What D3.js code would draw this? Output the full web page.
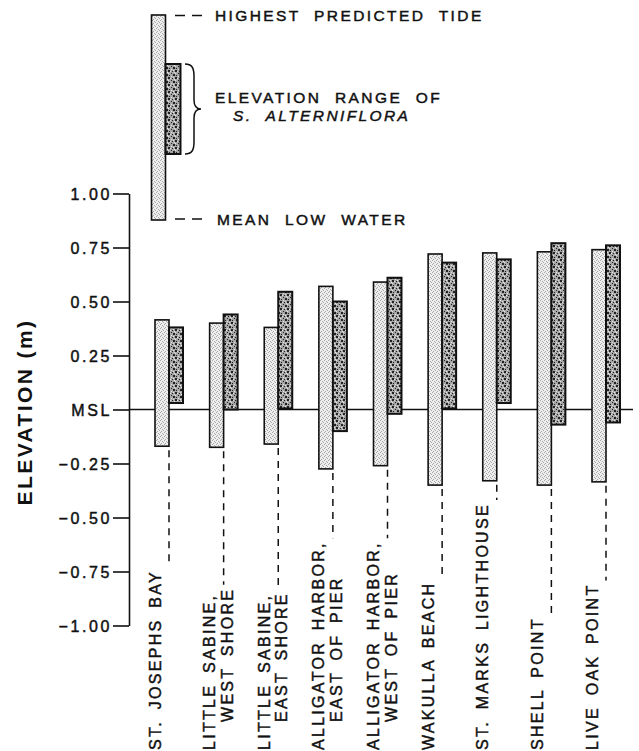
<!DOCTYPE html>
<html>
<head>
<meta charset="utf-8">
<script src="https://cdnjs.cloudflare.com/ajax/libs/d3/7.8.5/d3.min.js"></script>
<style>
  html, body { margin: 0; padding: 0; background: #fff; }
  svg { display: block; }
  text { font-family: "Liberation Sans", Arial, sans-serif; fill: #111; stroke: #111; stroke-width: 0.45px; }
</style>
</head>
<body>
<div id="chart"></div>
<script>
// sites, first and second label lines
var labelLine1 = ["ST. JOSEPHS BAY", "LITTLE SABINE,", "LITTLE SABINE,", "ALLIGATOR HARBOR,", "ALLIGATOR HARBOR,",
    "WAKULLA BEACH", "ST. MARKS LIGHTHOUSE", "SHELL POINT", "LIVE OAK POINT"];
var labelLine2 = ["", "WEST SHORE", "EAST SHORE", "EAST OF PIER", "WEST OF PIER", "", "", "", ""];

// tidal range (m): highest predicted tide / mean low water
var tideHigh = [0.415, 0.40, 0.38, 0.57, 0.59, 0.72, 0.725, 0.73, 0.74];
var tideLow = [-0.17, -0.175, -0.16, -0.275, -0.26, -0.35, -0.33, -0.35, -0.335];

// elevation range of S. alterniflora (m)
var grassTop = [0.38, 0.44, 0.545, 0.50, 0.61, 0.68, 0.695, 0.77, 0.76];
var grassBottom = [0.03, 0.0, 0.005, -0.10, -0.02, 0.005, 0.03, -0.07, -0.06];

var tickValues = [1, 0.75, 0.5, 0.25, 0, -0.25, -0.5, -0.75, -1];
var tickLabels = ["1.00", "0.75", "0.50", "0.25", "MSL", "\u22120.25", "\u22120.50", "\u22120.75", "\u22121.00"];

function drawChart() {
    var width = 639, height = 751;
    var svg = d3.select("#chart").append("svg")
        .attr("width", width)
        .attr("height", height);

    svg.append("rect").attr("width", width).attr("height", height).attr("fill", "#fff");

    // stipple patterns
    var defs = svg.append("defs");
    var light = defs.append("pattern").attr("id", "lightDots")
        .attr("patternUnits", "userSpaceOnUse").attr("width", 4).attr("height", 4);
    light.append("rect").attr("width", 4).attr("height", 4).attr("fill", "#eeeeee");
    [[0, 0], [2, 1], [1, 3], [3, 2]].forEach(function(p) {
        light.append("rect").attr("x", p[0]).attr("y", p[1]).attr("width", 1).attr("height", 1).attr("fill", "#a8a8a8");
    });
    var dark = defs.append("pattern").attr("id", "darkDots")
        .attr("patternUnits", "userSpaceOnUse").attr("width", 7).attr("height", 7);
    dark.append("rect").attr("width", 7).attr("height", 7).attr("fill", "#a6a6a6");
    [[0, 0, 2], [4, 1, 1], [5, 4, 2], [1, 5, 1], [3, 3, 1]].forEach(function(p) {
        dark.append("rect").attr("x", p[0]).attr("y", p[1]).attr("width", p[2]).attr("height", p[2]).attr("fill", "#222");
    });
    [[2, 1], [6, 2], [0, 3], [3, 6], [5, 0]].forEach(function(p) {
        dark.append("rect").attr("x", p[0]).attr("y", p[1]).attr("width", 1).attr("height", 1).attr("fill", "#e4e4e4");
    });

    var y = d3.scaleLinear().domain([-1, 1]).range([625.5, 193.5]);
    var x = d3.scalePoint().domain(d3.range(labelLine1.length)).range([169, 606]);
    var barW = 14;

    // y axis
    var axis = svg.append("g")
        .attr("transform", "translate(129,0)")
        .call(d3.axisLeft(y)
            .tickValues(tickValues)
            .tickSize(16)
            .tickSizeOuter(0)
            .tickPadding(1)
            .tickFormat(function(d, i) { return tickLabels[i]; }));
    axis.select(".domain").attr("stroke", "#111").attr("stroke-width", 1.6);
    axis.selectAll(".tick line").attr("stroke", "#111").attr("stroke-width", 1.6);
    axis.selectAll(".tick text")
        .attr("fill", "#111")
        .style("font-size", "16px")
        .style("letter-spacing", "2.6px")
        .attr("dy", "0.36em");

    // MSL line
    svg.append("line")
        .attr("x1", 129).attr("x2", 633)
        .attr("y1", y(0)).attr("y2", y(0))
        .attr("stroke", "#111").attr("stroke-width", 1.5);

    svg.append("text")
        .attr("transform", "translate(32,412) rotate(-90)")
        .attr("text-anchor", "middle")
        .style("font-size", "21px")
        .style("font-weight", "bold")
        .style("stroke-width", "0")
        .style("letter-spacing", "2.4px")
        .text("ELEVATION (m)");

    var idx = d3.range(labelLine1.length);

    // tidal range bars
    svg.selectAll(".tide").data(idx).enter().append("rect")
        .attr("class", "tide")
        .attr("x", function(i) { return x(i) - barW; })
        .attr("y", function(i) { return y(tideHigh[i]); })
        .attr("width", barW)
        .attr("height", function(i) { return y(tideLow[i]) - y(tideHigh[i]); })
        .attr("fill", "url(#lightDots)")
        .attr("stroke", "#111")
        .attr("stroke-width", 1.6);

    // S. alterniflora bars
    svg.selectAll(".grass").data(idx).enter().append("rect")
        .attr("class", "grass")
        .attr("x", function(i) { return x(i); })
        .attr("y", function(i) { return y(grassTop[i]); })
        .attr("width", barW)
        .attr("height", function(i) { return y(grassBottom[i]) - y(grassTop[i]); })
        .attr("fill", "url(#darkDots)")
        .attr("stroke", "#111")
        .attr("stroke-width", 2);

    // site labels
    var labelStyle = function(sel) {
        sel.style("font-size", "16px").style("letter-spacing", "2.3px").style("word-spacing", "4px");
    };
    idx.forEach(function(i) {
        var cx = x(i);
        var t1 = svg.append("text")
            .attr("transform", "translate(" + (cx - 8.5) + ",750) rotate(-90)")
            .call(labelStyle)
            .text(labelLine1[i]);
        var end = 750 - t1.node().getComputedTextLength();
        if (labelLine2[i]) {
            var t2 = svg.append("text")
                .attr("transform", "translate(" + (cx + 9) + ",722) rotate(-90)")
                .call(labelStyle)
                .text(labelLine2[i]);
            end = Math.min(end, 722 - t2.node().getComputedTextLength());
        }
        svg.append("line")
            .attr("x1", cx).attr("x2", cx)
            .attr("y1", y(tideLow[i]) + 4)
            .attr("y2", end - 3)
            .attr("stroke", "#111")
            .attr("stroke-width", 1.5)
            .attr("stroke-dasharray", "7,6");
    });

    // legend
    var lg = svg.append("g");
    lg.append("rect").attr("x", 151.5).attr("y", 15).attr("width", barW).attr("height", 205)
        .attr("fill", "url(#lightDots)").attr("stroke", "#111").attr("stroke-width", 1.6);
    lg.append("rect").attr("x", 165.5).attr("y", 64).attr("width", 15).attr("height", 90)
        .attr("fill", "url(#darkDots)").attr("stroke", "#111").attr("stroke-width", 2);
    [15.5, 219].forEach(function(yy) {
        lg.append("line").attr("x1", 175).attr("x2", 203).attr("y1", yy).attr("y2", yy)
            .attr("stroke", "#111").attr("stroke-width", 1.5).attr("stroke-dasharray", "10,7");
    });
    lg.append("path")
        .attr("d", "M185,64 C192,64 194,68 194,76 L194,100 C194,106 196,109 201,109 C196,109 194,112 194,118 L194,142 C194,150 192,154 185,154")
        .attr("fill", "none").attr("stroke", "#111").attr("stroke-width", 1.5);

    var legendText = function(sel) {
        sel.style("font-size", "15.5px").style("letter-spacing", "2.4px").style("word-spacing", "7px");
    };
    lg.append("text").attr("x", 215).attr("y", 21).call(legendText).text("HIGHEST PREDICTED TIDE");
    lg.append("text").attr("x", 215).attr("y", 103).call(legendText).text("ELEVATION RANGE OF");
    lg.append("text").attr("x", 233).attr("y", 121).call(legendText).style("font-style", "italic").text("S. ALTERNIFLORA");
    lg.append("text").attr("x", 217).attr("y", 225).call(legendText).text("MEAN LOW WATER");
}

drawChart();
</script>
</body>
</html>
